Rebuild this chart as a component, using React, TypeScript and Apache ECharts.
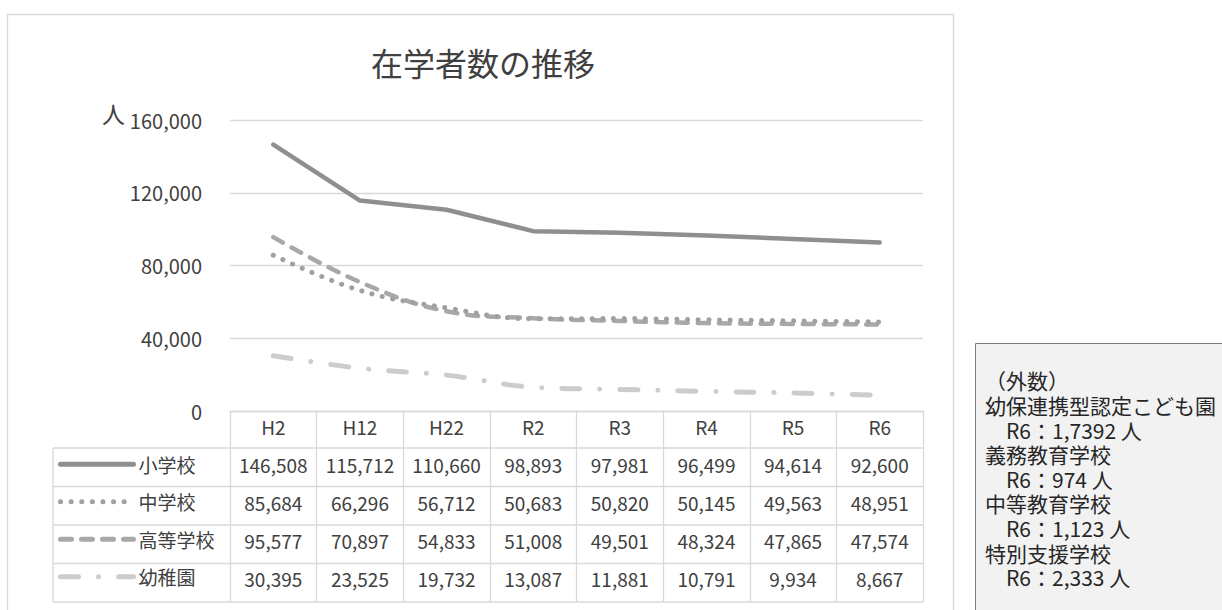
import React, { useEffect, useRef } from 'react';
import * as echarts from 'echarts';

const categories = ['H2', 'H12', 'H22', 'R2', 'R3', 'R4', 'R5', 'R6'];
const seriesNames = ['小学校', '中学校', '高等学校', '幼稚園'];
const elementary = [146508, 115712, 110660, 98893, 97981, 96499, 94614, 92600];
const juniorHigh = [85684, 66296, 56712, 50683, 50820, 50145, 49563, 48951];
const highSchool = [95577, 70897, 54833, 51008, 49501, 48324, 47865, 47574];
const kindergarten = [30395, 23525, 19732, 13087, 11881, 10791, 9934, 8667];
const yMin = 0;
const yMax = 160000;
const yStep = 40000;
const titleText = '在学者数の推移';
const unitText = '人';
const noteLines = [
  '（外数）',
  '幼保連携型認定こども園',
  '　R6：1,7392 人',
  '義務教育学校',
  '　R6：974 人',
  '中等教育学校',
  '　R6：1,123 人',
  '特別支援学校',
  '　R6：2,333 人',
];

const FONT = "'Noto Sans CJK JP', 'Noto Sans', sans-serif";
const W = 1222;
const H = 610;
const GRID_L = 230;
const GRID_R = 923;
const GRID_T = 120;
const TABLE_TOP = 411;
const HEADER_H = 37;
const ROW_H = 38.5;
const TABLE_LEFT = 53;

const fmt = (n: number) => n.toLocaleString('en-US');

export default function App() {
  const ref = useRef<HTMLDivElement>(null);
  useEffect(() => {
    if (!ref.current) return;
    const chart = echarts.init(ref.current, null, { renderer: 'svg' });
    const allSeries = [elementary, juniorHigh, highSchool, kindergarten];
    const styles = [
      { color: '#8f8f8f', width: 4.5, type: 'solid' as any, smooth: false },
      { color: '#a0a0a0', width: 5, type: [0.1, 10.5] as any, smooth: 0.4 },
      { color: '#a8a8a8', width: 4.5, type: [11, 10] as any, smooth: 0.4 },
      { color: '#cccccc', width: 5, type: [18, 20, 0.1, 20] as any, smooth: 0.4 },
    ];
    const rowCount = allSeries.length;
    const tableBottom = TABLE_TOP + HEADER_H + rowCount * ROW_H;
    const hLines: any[] = [];
    for (let i = 0; i <= rowCount; i++) {
      const y = TABLE_TOP + HEADER_H + i * ROW_H;
      hLines.push({
        type: 'line',
        silent: true,
        shape: { x1: TABLE_LEFT, y1: y, x2: GRID_R, y2: y },
        style: { stroke: '#d9d9d9', lineWidth: 1.3 },
      });
    }
    const option: any = {
      animation: false,
      textStyle: { fontFamily: FONT },
      title: {
        text: titleText,
        left: 478,
        top: 41,
        textAlign: 'center',
        textStyle: { fontSize: 32, fontWeight: 'normal', color: '#404040', fontFamily: FONT },
      },
      grid: { left: GRID_L, right: W - GRID_R, top: GRID_T, bottom: H - TABLE_TOP },
      legend: {
        orient: 'vertical',
        left: 58,
        padding: 0,
        top: TABLE_TOP + HEADER_H + ROW_H / 2 - 13,
        itemWidth: 73,
        itemHeight: 14,
        itemGap: ROW_H - 21,
        data: seriesNames,
        textStyle: { fontSize: 19, color: '#404040', lineHeight: 20, fontFamily: FONT },
        lineStyle: { width: 5 },
        itemStyle: { opacity: 0 },
        selectedMode: false,
      },
      xAxis: {
        type: 'category',
        data: categories,
        boundaryGap: true,
        axisLine: { show: true, lineStyle: { color: '#d9d9d9', width: 1.3 } },
        axisTick: {
          show: true,
          interval: 0,
          length: tableBottom - TABLE_TOP,
          lineStyle: { color: '#d9d9d9', width: 1.3 },
        },
        axisLabel: {
          interval: 0,
          margin: -3,
          formatter: (value: string, index: number) =>
            `{h|${value}}\n` + allSeries.map((s) => `{v|${fmt(s[index])}}`).join('\n'),
          rich: {
            h: { fontSize: 19, lineHeight: HEADER_H, color: '#404040', fontFamily: FONT },
            v: { fontSize: 19, lineHeight: 38, color: '#404040', fontFamily: FONT },
          },
        },
      },
      yAxis: {
        type: 'value',
        min: yMin,
        max: yMax,
        interval: yStep,
        axisLine: { show: false },
        axisTick: { show: false },
        splitLine: { lineStyle: { color: '#d9d9d9', width: 1.3 } },
        axisLabel: {
          margin: 28,
          fontSize: 20,
          color: '#404040',
          fontFamily: FONT,
          formatter: (v: number) => fmt(v),
        },
      },
      series: allSeries.map((data, i) => ({
        name: seriesNames[i],
        type: 'line',
        data,
        symbol: 'none',
        smooth: styles[i].smooth,
        color: styles[i].color,
        lineStyle: {
          color: styles[i].color,
          width: styles[i].width,
          type: styles[i].type,
          cap: 'round',
          join: 'round',
        },
        z: 10 - i,
      })),
      graphic: [
        {
          type: 'rect',
          silent: true,
          shape: { x: 7.5, y: 14.5, width: 946, height: 640 },
          style: { fill: 'none', stroke: '#d9d9d9', lineWidth: 1.3 },
        },
        ...hLines,
        {
          type: 'line',
          silent: true,
          shape: { x1: TABLE_LEFT, y1: TABLE_TOP + HEADER_H, x2: TABLE_LEFT, y2: tableBottom },
          style: { stroke: '#d9d9d9', lineWidth: 1.3 },
        },
        {
          type: 'text',
          silent: true,
          x: 125,
          y: 113,
          style: {
            text: unitText,
            font: `23px ${FONT}`,
            fill: '#404040',
            align: 'right',
            verticalAlign: 'middle',
          },
        },
        {
          type: 'rect',
          silent: true,
          shape: { x: 975.5, y: 343.5, width: 270, height: 300 },
          style: { fill: '#f2f2f2', stroke: '#7f7f7f', lineWidth: 1 },
        },
        {
          type: 'text',
          silent: true,
          x: 985,
          y: 368,
          style: {
            text: noteLines.join('\n'),
            font: `21px ${FONT}`,
            lineHeight: 24.6,
            fill: '#262626',
            verticalAlign: 'top',
          },
        },
      ],
    };
    chart.setOption(option);
    return () => chart.dispose();
  }, []);
  return (
    <div
      ref={ref}
      style={{ position: 'absolute', left: 0, top: 0, width: W, height: H, background: '#fff' }}
    />
  );
}
